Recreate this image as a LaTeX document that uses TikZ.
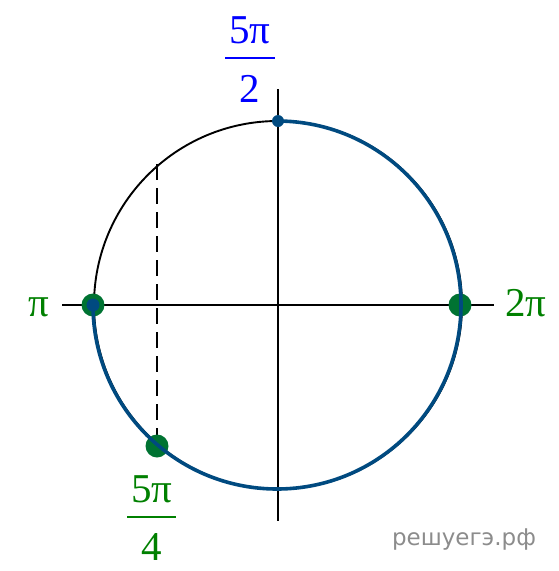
\documentclass[tikz,border=0pt]{standalone}
\usepackage{fontspec}
\setmainfont{Liberation Serif}
\newfontfamily\wmfont{DejaVu Sans}
\definecolor{arcblue}{RGB}{0,74,128}
\definecolor{dotgreen}{RGB}{0,115,50}
\definecolor{labgreen}{RGB}{0,128,0}
\definecolor{labblue}{RGB}{0,0,255}
\definecolor{wmgray}{RGB}{140,140,140}
\begin{document}
\begin{tikzpicture}[x=1pt,y=-1pt,
  axis/.style={line width=1.9pt,black},
  blkcirc/.style={line width=1.9pt,black},
  bluearc/.style={line width=3.6pt,arcblue},
  gdot/.style={fill=dotgreen},
  bdot/.style={fill=arcblue},
  glab/.style={text=labgreen,font=\fontsize{41}{43}\selectfont,anchor=base,inner sep=0pt},
  blab/.style={text=labblue,font=\fontsize{41}{43}\selectfont,anchor=base,inner sep=0pt},
  fracbar/.style={line width=1.7pt},
  dashline/.style={line width=1.9pt,dash pattern=on 16pt off 8pt}]
\useasboundingbox (0,0) rectangle (559,571);
\coordinate (O) at (278,305);
\coordinate (L) at (62,305);
\coordinate (R) at (494,305);
\coordinate (T) at (278,89);
\coordinate (B) at (278,521);
\coordinate (Ppi) at (93,305);
\coordinate (P2pi) at (460,305);
\coordinate (Ptop) at (278,121);
\coordinate (P54) at (157,446);
\coordinate (D1) at (157,164);
% axes
\draw[axis] (L) -- (R);
\draw[axis] (T) -- (B);
% circle
\draw[blkcirc] (O) circle[radius=184];
% dashed
\draw[dashline] (D1) -- (P54);
% green dots
\fill[gdot] (Ppi) circle[radius=11.5];
\fill[gdot] (P2pi) circle[radius=11.5];
\fill[gdot] (P54) circle[radius=11.5];
% blue arc from pi through the bottom to 5pi/2
\draw[bluearc] (Ppi) arc[start angle=180,end angle=-90,radius=184];
\fill[bdot] (Ppi) circle[radius=6.5];
\fill[bdot] (Ptop) circle[radius=6];
% labels
\node[glab] (lpi) at (39,316) {π};
\node[glab] (l2pi) at (526,316) {2π};
\node[blab] (n52) at (250,43) {5π};
\node[blab] (d52) at (250,102) {2};
\draw[fracbar,labblue] (225,58) -- (275,58);
\node[glab] (n54) at (152,502) {5π};
\node[glab] (d54) at (152,560) {4};
\draw[fracbar,labgreen] (127,517) -- (176,517);
\node[text=wmgray,font=\wmfont\fontsize{23}{25}\selectfont,anchor=base,inner sep=0pt] (wm) at (464,545) {решуегэ.рф};
\end{tikzpicture}
\end{document}
